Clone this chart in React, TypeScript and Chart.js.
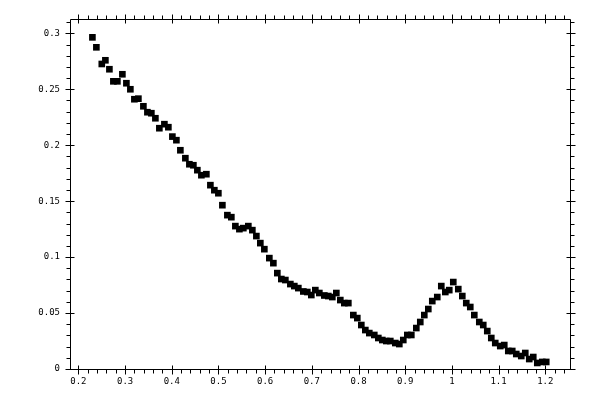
import { useEffect, useRef } from 'react';
import { Chart, registerables } from 'chart.js';

Chart.register(...registerables);

const xValues = [
  0.23, 0.2385, 0.2501, 0.2578, 0.2664, 0.2749, 0.2835, 0.2942, 0.3028, 0.3113,
  0.3199, 0.3285, 0.3392, 0.3478, 0.3563, 0.3649, 0.3734, 0.3842, 0.3927, 0.4013,
  0.4099, 0.4184, 0.4291, 0.4377, 0.4463, 0.4548, 0.4634, 0.4741, 0.4827, 0.4912,
  0.4998, 0.5084, 0.5191, 0.5276, 0.5362, 0.5448, 0.5533, 0.564, 0.5726, 0.5812,
  0.5897, 0.5983, 0.609, 0.6176, 0.6261, 0.6347, 0.6433, 0.654, 0.6625, 0.6711,
  0.6818, 0.6904, 0.6989, 0.7075, 0.7161, 0.7268, 0.7353, 0.7439, 0.7525, 0.761,
  0.7696, 0.7782, 0.7889, 0.7974, 0.806, 0.8146, 0.8231, 0.8338, 0.8424, 0.851,
  0.8595, 0.8681, 0.8788, 0.8874, 0.8959, 0.9045, 0.9131, 0.9238, 0.9323, 0.9409,
  0.9495, 0.958, 0.9687, 0.9773, 0.9859, 0.9944, 1.003, 1.0137, 1.0223, 1.0308,
  1.0394, 1.048, 1.0587, 1.0672, 1.0758, 1.0844, 1.0929, 1.1036, 1.1122, 1.1208,
  1.1293, 1.1379, 1.1486, 1.1572, 1.1657, 1.1743, 1.1829, 1.1936, 1.2021,
];

const yValues = [
  0.2964, 0.2875, 0.2726, 0.2759, 0.2679, 0.2571, 0.2571, 0.2634, 0.2554, 0.25,
  0.2411, 0.2416, 0.2348, 0.2295, 0.2286, 0.2241, 0.2152, 0.2188, 0.2161, 0.2077,
  0.2045, 0.1955, 0.1884, 0.183, 0.1821, 0.1777, 0.1732, 0.1741, 0.1643, 0.1598,
  0.1571, 0.1464, 0.1375, 0.1357, 0.1277, 0.125, 0.1259, 0.1277, 0.1241, 0.1188,
  0.1125, 0.1071, 0.0991, 0.0946, 0.0857, 0.0804, 0.0795, 0.0759, 0.0741, 0.0723,
  0.0693, 0.0688, 0.0661, 0.0705, 0.0679, 0.0657, 0.0652, 0.0643, 0.0679, 0.0616,
  0.0589, 0.0589, 0.0482, 0.0455, 0.0393, 0.0348, 0.0321, 0.0304, 0.0277, 0.0259,
  0.025, 0.025, 0.0232, 0.0223, 0.0259, 0.0304, 0.0304, 0.0366, 0.042, 0.0482,
  0.0536, 0.0607, 0.0643, 0.0741, 0.0688, 0.0705, 0.0777, 0.0714, 0.0652, 0.0589,
  0.0554, 0.0482, 0.042, 0.0393, 0.0339, 0.0277, 0.0232, 0.0205, 0.0214, 0.0161,
  0.0161, 0.0134, 0.0116, 0.0143, 0.0089, 0.0107, 0.0054, 0.0063, 0.0063,
];

const xTicks = [0.2, 0.3, 0.4, 0.5, 0.6, 0.7, 0.8, 0.9, 1.0, 1.1, 1.2];
const yTicks = [0, 0.05, 0.1, 0.15, 0.2, 0.25, 0.3];

const X_MIN = 0.182;
const X_MAX = 1.253;
const Y_MIN = 0;
const Y_MAX = 0.3128;

// box frame with ticks on all four sides: major ticks cross, minor ones point out
const framePlugin = {
  id: 'frame',
  beforeDatasetsDraw(chart: any) {
    const { ctx, chartArea, scales } = chart;
    const xs = scales.x;
    const ys = scales.y;
    const L = Math.round(chartArea.left) + 0.5;
    const R = Math.round(chartArea.right) + 0.5;
    const T = Math.round(chartArea.top) + 0.5;
    const B = Math.round(chartArea.bottom) + 0.5;

    ctx.save();
    ctx.strokeStyle = '#000';
    ctx.lineWidth = 1;
    ctx.beginPath();
    ctx.rect(L, T, R - L, B - T);

    const vline = (x: number, y1: number, y2: number) => {
      const px = Math.round(x) + 0.5;
      ctx.moveTo(px, y1);
      ctx.lineTo(px, y2);
    };
    const hline = (y: number, x1: number, x2: number) => {
      const py = Math.round(y) + 0.5;
      ctx.moveTo(x1, py);
      ctx.lineTo(x2, py);
    };

    xTicks.forEach((v) => {
      const px = xs.getPixelForValue(v);
      vline(px, B - 4, B + 5);
      vline(px, T + 4, T - 5);
    });
    for (let i = Math.ceil(X_MIN / 0.02); i * 0.02 <= X_MAX; i++) {
      if (i % 5 === 0) continue;
      const px = xs.getPixelForValue(i * 0.02);
      vline(px, B, B + 4);
      vline(px, T, T - 4);
    }

    yTicks.forEach((v) => {
      const py = ys.getPixelForValue(v);
      hline(py, L - 5, L + 4);
      hline(py, R - 4, R + 5);
    });
    for (let i = Math.ceil(Y_MIN / 0.01); i * 0.01 <= Y_MAX; i++) {
      if (i % 5 === 0) continue;
      const py = ys.getPixelForValue(i * 0.01);
      hline(py, L - 4, L);
      hline(py, R, R + 4);
    }
    ctx.stroke();
    ctx.restore();
  },
};

export default function App() {
  const chartRef = useRef<HTMLCanvasElement>(null);
  const chartInstance = useRef<Chart | null>(null);

  useEffect(() => {
    if (!chartRef.current) return;
    if (chartInstance.current) chartInstance.current.destroy();

    const ctx = chartRef.current.getContext('2d');
    if (!ctx) return;

    const points = xValues.map((x, i) => ({ x, y: yValues[i] }));
    const tickFont = { family: '"DejaVu Sans Mono", monospace', size: 9 };

    chartInstance.current = new Chart(ctx, {
      type: 'scatter',
      data: {
        datasets: [
          {
            data: points,
            pointStyle: 'rect',
            pointRadius: 4.7,
            pointHoverRadius: 4.7,
            borderWidth: 0,
            backgroundColor: '#000',
            borderColor: '#000',
          },
        ],
      },
      options: {
        responsive: false,
        animation: false,
        events: [],
        layout: { padding: { left: 0, right: 30, top: 19, bottom: 0 } },
        plugins: {
          legend: { display: false },
          tooltip: { enabled: false },
        },
        scales: {
          x: {
            type: 'linear',
            min: X_MIN,
            max: X_MAX,
            grid: { display: false, drawTicks: false },
            border: { display: false },
            afterFit: (scale: any) => {
              scale.height = 31;
            },
            afterBuildTicks: (scale: any) => {
              scale.ticks = xTicks.map((v) => ({ value: v }));
            },
            ticks: {
              autoSkip: false,
              maxRotation: 0,
              padding: 7,
              color: '#000',
              font: tickFont,
              callback: (v: any) => String(Math.round(Number(v) * 10) / 10),
            },
          },
          y: {
            type: 'linear',
            min: Y_MIN,
            max: Y_MAX,
            grid: { display: false, drawTicks: false },
            border: { display: false },
            afterFit: (scale: any) => {
              scale.width = 70;
            },
            afterBuildTicks: (scale: any) => {
              scale.ticks = yTicks.map((v) => ({ value: v }));
            },
            ticks: {
              autoSkip: false,
              padding: 10,
              color: '#000',
              font: tickFont,
              callback: (v: any) => String(Math.round(Number(v) * 100) / 100),
            },
          },
        },
      },
      plugins: [framePlugin],
    });

    return () => {
      if (chartInstance.current) {
        chartInstance.current.destroy();
        chartInstance.current = null;
      }
    };
  }, []);

  return (
    <div style={{ position: 'absolute', left: 0, top: 0, width: 600, height: 400, background: '#fff' }}>
      <canvas ref={chartRef} width={600} height={400} />
    </div>
  );
}
